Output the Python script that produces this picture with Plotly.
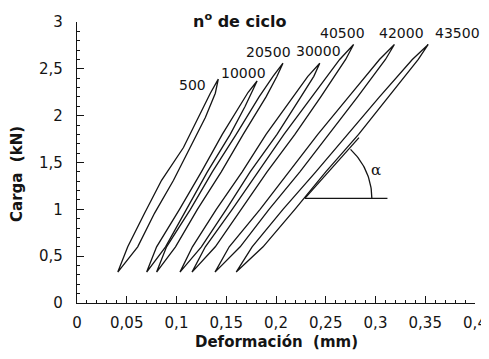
import numpy as np
import plotly.graph_objects as go

# ---- data (deformation in mm, load in kN) ----
cycle_labels = ["500", "10000", "20500", "30000", "40500", "42000", "43500"]

load_500 = [0.33, 0.60, 0.96, 1.31, 1.66, 1.98, 2.24, 2.39]
left_500 = [0.041, 0.051, 0.068, 0.085, 0.107, 0.122, 0.134, 0.142]
right_500 = [0.041, 0.061, 0.078, 0.097, 0.114, 0.129, 0.139, 0.142]

load_10000 = [0.33, 0.60, 1.00, 1.40, 1.80, 2.10, 2.25, 2.37]
left_10000 = [0.070, 0.080, 0.103, 0.125, 0.146, 0.163, 0.172, 0.181]
right_10000 = [0.070, 0.089, 0.110, 0.131, 0.154, 0.169, 0.176, 0.181]

load_20500 = [0.33, 0.60, 1.00, 1.40, 1.80, 2.20, 2.42, 2.56]
left_20500 = [0.080, 0.090, 0.114, 0.136, 0.160, 0.183, 0.197, 0.207]
right_20500 = [0.080, 0.099, 0.121, 0.145, 0.167, 0.190, 0.201, 0.207]

load_30000 = [0.33, 0.60, 1.00, 1.40, 1.80, 2.20, 2.42, 2.56]
left_30000 = [0.1035, 0.116, 0.140, 0.166, 0.190, 0.217, 0.232, 0.244]
right_30000 = [0.1035, 0.125, 0.150, 0.174, 0.201, 0.225, 0.238, 0.244]

load_40500 = [0.33, 0.60, 1.00, 1.40, 1.80, 2.20, 2.60, 2.76]
left_40500 = [0.1156, 0.129, 0.156, 0.182, 0.208, 0.236, 0.264, 0.278]
right_40500 = [0.1156, 0.139, 0.165, 0.191, 0.219, 0.245, 0.270, 0.278]

load_42000 = [0.33, 0.60, 1.00, 1.40, 1.80, 2.20, 2.60, 2.76]
left_42000 = [0.1387, 0.153, 0.184, 0.213, 0.242, 0.273, 0.304, 0.319]
right_42000 = [0.1387, 0.164, 0.193, 0.224, 0.253, 0.282, 0.310, 0.319]

load_43500 = [0.33, 0.60, 1.00, 1.40, 1.80, 2.20, 2.60, 2.76]
left_43500 = [0.160, 0.176, 0.207, 0.240, 0.272, 0.304, 0.337, 0.353]
right_43500 = [0.160, 0.187, 0.219, 0.250, 0.283, 0.313, 0.343, 0.353]

x_tick_vals = [0, 0.05, 0.1, 0.15, 0.2, 0.25, 0.3, 0.35, 0.4]
x_tick_text = ["0", "0,05", "0,1", "0,15", "0,2", "0,25", "0,3", "0,35", "0,4"]
y_tick_vals = [0, 0.5, 1, 1.5, 2, 2.5, 3]
y_tick_text = ["0", "0,5", "1", "1,5", "2", "2,5", "3"]

# slope annotation (angle alpha)
alpha_origin = (0.229, 1.117)
alpha_tangent_end = (0.2834, 1.766)
alpha_horizontal_end = 0.312

loops = [
    (load_500, left_500, right_500),
    (load_10000, left_10000, right_10000),
    (load_20500, left_20500, right_20500),
    (load_30000, left_30000, right_30000),
    (load_40500, left_40500, right_40500),
    (load_42000, left_42000, right_42000),
    (load_43500, left_43500, right_43500),
]

INK = "#141414"
LW = 1.3
fig = go.Figure()
for name, (ld, lx, rx) in zip(cycle_labels, loops):
    xs = list(lx) + list(rx[::-1])
    ys = list(ld) + list(ld[::-1])
    fig.add_trace(go.Scatter(x=xs, y=ys, mode="lines", name=name,
                             line=dict(color=INK, width=LW), hoverinfo="skip"))

# cycle labels near the top of each loop
label_pos = [(0.116, 2.33), (0.167, 2.46), (0.192, 2.68), (0.243, 2.69),
             (0.267, 2.88), (0.326, 2.88), (0.382, 2.88)]
annotations = []
for txt, (ax_, ay_) in zip(cycle_labels, label_pos):
    annotations.append(dict(x=ax_, y=ay_, text=txt, showarrow=False,
                            xanchor="center", yanchor="middle",
                            font=dict(family="DejaVu Sans", size=14, color=INK)))

# alpha lines
ox, oy = alpha_origin
fig.add_trace(go.Scatter(x=[ox, alpha_tangent_end[0]], y=[oy, alpha_tangent_end[1]],
                         mode="lines", line=dict(color=INK, width=LW), hoverinfo="skip"))
fig.add_trace(go.Scatter(x=[ox, alpha_horizontal_end], y=[oy, oy],
                         mode="lines", line=dict(color=INK, width=LW), hoverinfo="skip"))
# arc (in screen-proportional units)
px_per_x = 398 / 0.4
px_per_y = 281 / 3.0
r_px = 67
theta = np.linspace(0, np.radians(47), 30)
fig.add_trace(go.Scatter(x=ox + r_px * np.cos(theta) / px_per_x,
                         y=oy + r_px * np.sin(theta) / px_per_y,
                         mode="lines", line=dict(color=INK, width=LW), hoverinfo="skip"))
annotations.append(dict(x=0.3005, y=1.425, text="α", showarrow=False,
                        xanchor="center", yanchor="middle",
                        font=dict(family="DejaVu Serif", size=15, color=INK)))

# header and axis titles (positions relative to the plot area)
annotations.append(dict(x=(239 - 77) / 398, y=(303 - 20) / 281, xref="x domain", yref="y domain",
                        text="n<sup>o</sup> de ciclo", showarrow=False,
                        xanchor="center", yanchor="middle",
                        font=dict(family="DejaVu Sans", size=16, color=INK, weight="bold")))
annotations.append(dict(x=(276 - 77) / 398, y=(303 - 342) / 281, xref="x domain", yref="y domain",
                        text="Deformación  (mm)", showarrow=False,
                        xanchor="center", yanchor="middle",
                        font=dict(family="DejaVu Sans", size=15, color=INK, weight="bold")))
annotations.append(dict(x=(17 - 77) / 398, y=(303 - 174) / 281, xref="x domain", yref="y domain",
                        text="Carga  (kN)", showarrow=False, textangle=-90,
                        xanchor="center", yanchor="middle",
                        font=dict(family="DejaVu Sans", size=15, color=INK, weight="bold")))

axis_common = dict(showgrid=False, zeroline=False, showline=True, linecolor=INK, linewidth=LW,
                   ticks="inside", ticklen=7, tickwidth=LW, tickcolor=INK, automargin=False,
                   tickfont=dict(family="DejaVu Sans", size=15, color=INK))
# the page body adds an 8 px margin, so the figure is 8 px smaller on each axis
fig.update_layout(
    width=481, height=351,
    margin=dict(l=69, r=14, t=14, b=56),
    paper_bgcolor="white", plot_bgcolor="white",
    showlegend=False,
    xaxis=dict(range=[0, 0.4], tickmode="array", tickvals=x_tick_vals, ticktext=x_tick_text,
               ticklabelstandoff=6,
               minor=dict(tickmode="linear", tick0=0, dtick=0.01, ticks="inside", ticklen=3,
                          tickcolor=INK, tickwidth=1),
               **axis_common),
    yaxis=dict(range=[0, 3], tickmode="array", tickvals=y_tick_vals, ticktext=y_tick_text,
               ticklabelstandoff=10,
               minor=dict(tickmode="linear", tick0=0, dtick=0.1, ticks="inside", ticklen=3,
                          tickcolor=INK, tickwidth=1),
               **axis_common),
    annotations=annotations,
)
fig.write_html("out.html")
